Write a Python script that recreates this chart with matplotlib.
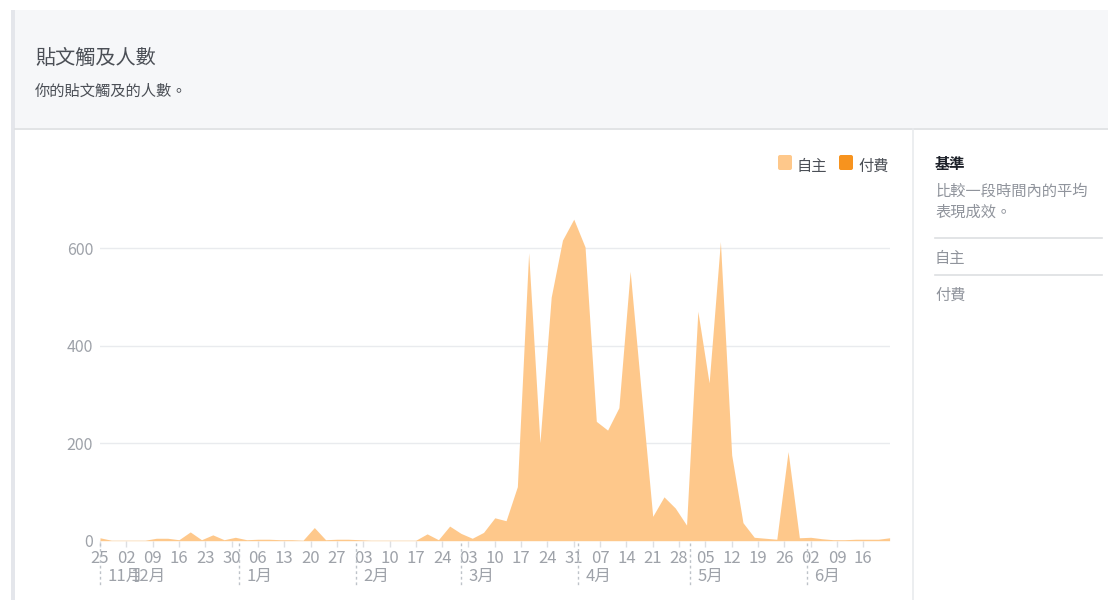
import pandas as pd
import matplotlib
matplotlib.use('Agg')
import matplotlib.pyplot as plt
import matplotlib.dates as mdates
from matplotlib.patches import Rectangle, FancyBboxPatch

plt.rcParams['font.family'] = ['Noto Sans CJK TC', 'DejaVu Sans']

# Datos: un punto cada 3 días desde el 25/11/2018
fechas = pd.date_range('2018-11-25', periods=71, freq='3D')
organico = [6, 1, 1, 1, 1, 5, 5, 2, 18, 2,
            12, 2, 7, 2, 3, 3, 2, 2, 1, 27,
            2, 3, 3, 2, 1, 1, 1, 1, 1, 14,
            2, 30, 15, 5, 17, 47, 41, 111, 591, 201,
            500, 617, 660, 603, 245, 227, 273, 553, 300, 50,
            90, 67, 32, 471, 324, 614, 176, 37, 7, 5,
            3, 183, 6, 7, 4, 2, 2, 3, 3, 3,
            6]

# Marcas semanales (domingos) y meses
semanas = pd.date_range('2018-11-25', '2019-06-16', freq='7D')
meses_fechas = pd.to_datetime(['2018-11-25', '2018-12-01', '2019-01-01', '2019-02-01',
                               '2019-03-01', '2019-04-01', '2019-05-01', '2019-06-01'])
meses_texto = ['11月', '12月', '1月', '2月', '3月', '4月', '5月', '6月']
meses_con_linea = [True, False, True, True, True, True, True, True]

y_ticks = [0, 200, 400, 600]
leyenda = ['自主', '付費']
colores = ['#fec88b', '#f7931e']

W, H = 1108, 600
fig = plt.figure(figsize=(W / 100, H / 100), dpi=100)

# ---- Fondo / marco en coordenadas de píxel ----
bg = fig.add_axes([0, 0, 1, 1])
bg.set_xlim(0, W)
bg.set_ylim(H, 0)
bg.axis('off')
bg.add_patch(Rectangle((15, 10), W - 15, 118, facecolor='#f6f7f9', edgecolor='none'))
bg.plot([15, W], [128.5, 128.5], color='#dddfe2', lw=1.2)
bg.add_patch(Rectangle((11, 10), 4, H - 10, facecolor='#e4e6eb', edgecolor='none'))
bg.plot([913, 913], [129, H], color='#e9ebee', lw=1.2)

bg.text(35, 58, '貼文觸及人數', fontsize=14.5, color='#4b4f56', va='center', ha='left')
bg.text(35, 91, '你的貼文觸及的人數。', fontsize=11, color='#4b4f56', va='center', ha='left')

# Panel derecho
bg.text(935, 164, '基準', fontsize=11, color='#1d2129', fontweight='bold', va='center')
bg.text(935, 191, '比較一段時間內的平均', fontsize=11, color='#90949c', va='center')
bg.text(935, 212, '表現成效。', fontsize=11, color='#90949c', va='center')
bg.plot([935, 1102], [237.5, 237.5], color='#dddfe2', lw=1.2)
bg.text(935, 258, leyenda[0], fontsize=11, color='#90949c', va='center')
bg.plot([935, 1102], [274.5, 274.5], color='#dddfe2', lw=1.2)
bg.text(935, 295, leyenda[1], fontsize=11, color='#90949c', va='center')

# Leyenda
for x0, nombre, col in zip([777, 838], leyenda, colores):
    bg.add_patch(FancyBboxPatch((x0 + 1, 155), 14, 15, boxstyle='round,pad=0,rounding_size=2',
                                facecolor=col, edgecolor='none'))
    bg.text(x0 + 20, 166, nombre, fontsize=11, color='#4b4f56', va='center')

# ---- Gráfico de área ----
px_izq, px_der = 100, 889.6
px_cero, px_tope = 540.7, 199.7
ax = fig.add_axes([px_izq / W, (H - px_cero) / H, (px_der - px_izq) / W, (px_cero - px_tope) / H])
ax.patch.set_alpha(0)
ax.fill_between(fechas, organico, color=colores[0], lw=0, zorder=2)
ax.set_xlim(fechas[0], fechas[-1])
ax.set_ylim(0, 700)

for s in ax.spines.values():
    s.set_visible(False)

ax.set_yticks(y_ticks)
ax.set_yticklabels([str(v) for v in y_ticks])
ax.yaxis.grid(True, color='#e9ebee', lw=1)
ax.set_axisbelow(True)
ax.tick_params(axis='y', length=0, pad=5, labelsize=11.5, labelcolor='#9ea2a9')

ax.set_xticks(semanas)
ax.set_xticklabels([f'{d.day:02d}' for d in semanas])
ax.tick_params(axis='x', length=4, width=1, color='#dddfe2', pad=2.5,
               labelsize=12, labelcolor='#9ea2a9')

# Meses: línea punteada y etiqueta debajo (11月 y 12月 se solapan como en el original)
for f, txt, linea in zip(meses_fechas, meses_texto, meses_con_linea):
    xn = mdates.date2num(f)
    if linea:
        ax.plot([xn, xn], [-0.008, -0.13], transform=ax.get_xaxis_transform(),
                color='#bec3c9', lw=1, ls=(0, (2, 2)), clip_on=False)
    ax.annotate(txt, xy=(xn, 0), xycoords=('data', 'axes fraction'),
                xytext=(5.5, -26), textcoords='offset points',
                fontsize=12, color='#9ea2a9', ha='left', va='center')

fig.savefig('out.png', dpi=100)
